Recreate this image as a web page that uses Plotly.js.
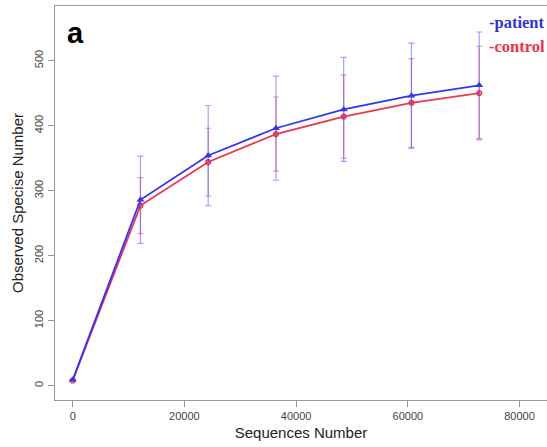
<!DOCTYPE html>
<html>
<head>
<meta charset="utf-8">
<script src="https://cdn.plot.ly/plotly-3.0.1.min.js"></script>
<style>html,body{margin:0;padding:0;background:#fff;}#chart{width:547px;height:447px;}</style>
</head>
<body>
<div id="chart"></div>
<script>
var sequences = [0, 12130, 24260, 36390, 48520, 60650, 72780];
var patientMean = [9, 286, 354, 396, 425, 446, 462];
var patientErr  = [0, 67, 77, 80, 80, 81, 82];
var controlMean = [8, 277, 344, 387, 414, 435, 450];
var controlErr  = [0, 43, 52, 57, 64, 68, 72];
var xTicks = [0, 20000, 40000, 60000, 80000];
var yTicks = [0, 100, 200, 300, 400, 500];

var control = {
  x: sequences, y: controlMean, type: 'scatter', mode: 'lines+markers', name: 'control',
  line: {color: '#ee3355', width: 1.8},
  marker: {symbol: 'circle', size: 5, color: 'rgba(238,51,85,0.5)', line: {color: '#e03050', width: 1.2}},
  error_y: {type: 'data', array: controlErr, visible: true, color: 'rgba(235,70,100,0.55)', thickness: 1.2, width: 3}
};
var patient = {
  x: sequences, y: patientMean, type: 'scatter', mode: 'lines+markers', name: 'patient',
  line: {color: '#3535f0', width: 1.8},
  marker: {symbol: 'triangle-up', size: 7, color: '#3535f0'},
  error_y: {type: 'data', array: patientErr, visible: true, color: 'rgba(70,70,245,0.5)', thickness: 1.2, width: 3}
};

var layout = {
  width: 547, height: 447,
  margin: {l: 55, r: 0, t: 6, b: 47},
  paper_bgcolor: '#fff', plot_bgcolor: '#fff',
  showlegend: false,
  font: {family: 'Liberation Sans, Arial, sans-serif', color: '#444'},
  xaxis: {
    range: [-3170, 84920], tickvals: xTicks, ticktext: xTicks.map(String),
    showgrid: false, zeroline: false, showline: true, linecolor: '#999', linewidth: 1.2, mirror: true,
    ticks: 'outside', ticklen: 6, tickcolor: '#999', tickfont: {size: 11, color: '#444'},
    title: {text: 'Sequences Number', font: {size: 15, color: '#222'}, standoff: 6}
  },
  yaxis: {
    range: [-22, 584], tickvals: yTicks, ticktext: yTicks.map(String),
    showgrid: false, zeroline: false, showline: true, linecolor: '#999', linewidth: 1.2,
    ticks: 'outside', ticklen: 6, tickcolor: '#999', tickangle: -90, tickfont: {size: 11, color: '#444'},
    title: {text: 'Observed Specise Number', font: {size: 15, color: '#222'}, standoff: 6}
  },
  annotations: [
    {text: '<b>a</b>', xref: 'paper', yref: 'paper', x: 0.041, y: 0.931, xanchor: 'center', yanchor: 'middle', showarrow: false,
     font: {size: 29, color: '#000', family: 'Liberation Sans, Arial, sans-serif'}},
    {text: '<b>-patient</b>', xref: 'paper', yref: 'paper', x: 1.0, y: 0.957, xanchor: 'right', yanchor: 'middle', showarrow: false,
     font: {size: 16.5, color: '#3333cc', family: 'Liberation Serif, Times New Roman, serif'}},
    {text: '<b>-control</b>', xref: 'paper', yref: 'paper', x: 1.0, y: 0.897, xanchor: 'right', yanchor: 'middle', showarrow: false,
     font: {size: 16.5, color: '#ee3344', family: 'Liberation Serif, Times New Roman, serif'}}
  ]
};

Plotly.newPlot('chart', [control, patient], layout, {displayModeBar: false, staticPlot: true});
</script>
</body>
</html>
